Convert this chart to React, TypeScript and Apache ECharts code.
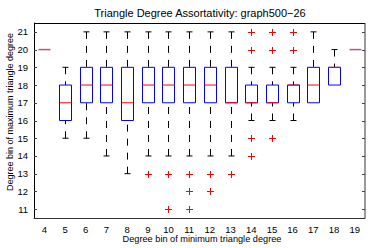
import React, { useEffect, useRef } from "react";
import * as echarts from "echarts";

const categories = [4, 5, 6, 7, 8, 9, 10, 11, 12, 13, 14, 15, 16, 17, 18, 19];
// [lowerWhisker, q1, median, q3, upperWhisker]
const boxStats = [
  [20, 20, 20, 20, 20],
  [15, 16, 17, 18, 19],
  [15, 17, 18, 19, 21],
  [14, 17, 18, 19, 21],
  [13, 16, 17, 19, 21],
  [14, 17, 18, 19, 21],
  [14, 17, 18, 19, 21],
  [14, 17, 18, 19, 21],
  [14, 17, 18, 19, 21],
  [14, 17, 17, 19, 21],
  [16, 17, 17, 18, 19],
  [16, 17, 17, 18, 19],
  [16, 17, 18, 18, 19],
  [17, 17, 18, 19, 21],
  [18, 18, 19, 19, 20],
  [20, 20, 20, 20, 20],
];
// [category, value]
const outliers = [
  [9, 13],
  [10, 13], [10, 11],
  [11, 13], [11, 12], [11, 11],
  [12, 13], [12, 12],
  [13, 13],
  [14, 21], [14, 20], [14, 15], [14, 14],
  [15, 21], [15, 20], [15, 15],
  [16, 21], [16, 20],
];
const yTicks = [11, 12, 13, 14, 15, 16, 17, 18, 19, 20, 21];
const titleText = "Triangle Degree Assortativity: graph500\u221226";
const xName = "Degree bin of minimum triangle degree";
const yName = "Degree bin of maximum triangle degree";

const FONT = "'Liberation Sans', Arial, sans-serif";

export default function App() {
  const ref = useRef<HTMLDivElement>(null);
  useEffect(() => {
    if (!ref.current) return;
    const chart = echarts.init(ref.current, null, { renderer: "svg" });
    const boxData = categories.map((c, i) => [c, ...boxStats[i]]);
    chart.setOption({
      animation: false,
      grid: { left: 34, right: 9, top: 23, bottom: 30, containLabel: false, outerBoundsMode: "none" },
      xAxis: {
        type: "value",
        min: 3.5,
        max: 19.5,
        interval: 0.5,
        axisLine: { show: true, onZero: false, lineStyle: { color: "#333", width: 1 } },
        axisTick: { show: false },
        splitLine: { show: false },
        axisLabel: {
          fontFamily: FONT,
          fontSize: 9.5,
          color: "#000",
          margin: 6,
          hideOverlap: false,
          interval: 0,
          formatter: (v: number) => (categories.includes(v) ? String(v) : ""),
        },
      },
      yAxis: [
        {
          type: "value",
          min: 10.5,
          max: 21.5,
          interval: 0.5,
          axisLine: { show: true, lineStyle: { color: "#000", width: 1 } },
          axisTick: { show: false },
          splitLine: { show: false },
          axisLabel: {
            fontFamily: FONT,
            fontSize: 9.5,
            color: "#000",
            margin: 6,
            hideOverlap: false,
            formatter: (v: number) => (yTicks.includes(v) ? String(v) : ""),
          },
        },
      ],
      graphic: [
        {
          type: "text",
          x: 200,
          y: 13,
          style: {
            text: titleText,
            fontFamily: FONT,
            fontSize: 11,
            fill: "#000",
            align: "center",
            verticalAlign: "middle",
          },
        },
        {
          type: "text",
          x: 202,
          y: 239,
          style: {
            text: xName,
            fontFamily: FONT,
            fontSize: 9.2,
            fill: "#000",
            align: "center",
            verticalAlign: "middle",
          },
        },
        {
          type: "text",
          x: 10,
          y: 112,
          rotation: Math.PI / 2,
          style: {
            text: yName,
            fontFamily: FONT,
            fontSize: 9,
            fill: "#000",
            align: "center",
            verticalAlign: "middle",
          },
        },
        {
          type: "line",
          shape: { x1: 34, y1: 23.5, x2: 365, y2: 23.5 },
          style: { stroke: "#000", lineWidth: 1 },
        },
        {
          type: "line",
          shape: { x1: 365, y1: 23, x2: 365, y2: 218 },
          style: { stroke: "#333", lineWidth: 1 },
        },
      ],
      series: [
        {
          type: "custom",
          data: yTicks.map((t) => [t]),
          renderItem: (params: any, api: any) => {
            const v = api.value(0);
            const pl = api.coord([3.5, v]);
            const pr = api.coord([19.5, v]);
            const y = Math.round(pl[1]) + 0.5;
            return {
              type: "group",
              children: [
                { type: "line", shape: { x1: pl[0], y1: y, x2: pl[0] + 3, y2: y }, style: { stroke: "#444", lineWidth: 1 } },
                { type: "line", shape: { x1: pr[0] - 3, y1: y, x2: pr[0], y2: y }, style: { stroke: "#444", lineWidth: 1 } },
              ],
            };
          },
          silent: true,
          z: 1,
        },
        {
          type: "custom",
          data: boxData,
          encode: { x: 0, y: [1, 2, 3, 4, 5] },
          renderItem: (params: any, api: any) => {
            const x = api.value(0);
            const lo = api.coord([x, api.value(1)]);
            const q1 = api.coord([x, api.value(2)]);
            const md = api.coord([x, api.value(3)]);
            const q3 = api.coord([x, api.value(4)]);
            const hi = api.coord([x, api.value(5)]);
            const cx = Math.round(lo[0]) + 0.5;
            const hw = 6;
            const cw = 3;
            const children: any[] = [];
            if (hi[1] < q3[1]) {
              children.push({
                type: "line",
                shape: { x1: cx, y1: hi[1], x2: cx, y2: q3[1] },
                style: { stroke: "#000", lineWidth: 1, lineDash: [7, 7] },
              });
              children.push({
                type: "line",
                shape: { x1: cx - cw, y1: hi[1], x2: cx + cw, y2: hi[1] },
                style: { stroke: "#000", lineWidth: 1 },
              });
            }
            if (lo[1] > q1[1]) {
              children.push({
                type: "line",
                shape: { x1: cx, y1: lo[1], x2: cx, y2: q1[1] },
                style: { stroke: "#000", lineWidth: 1, lineDash: [7, 7] },
              });
              children.push({
                type: "line",
                shape: { x1: cx - cw, y1: lo[1], x2: cx + cw, y2: lo[1] },
                style: { stroke: "#000", lineWidth: 1 },
              });
            }
            const single = q3[1] === q1[1];
            if (!single) {
              children.push({
                type: "rect",
                shape: { x: cx - hw, y: q3[1], width: hw * 2, height: q1[1] - q3[1] },
                style: { fill: "none", stroke: "#0000ff", lineWidth: 1 },
              });
              children.push({
                type: "line",
                shape: { x1: cx - hw, y1: md[1], x2: cx + hw, y2: md[1] },
                style: { stroke: "#ff0000", lineWidth: 1 },
              });
            } else {
              children.push({
                type: "line",
                shape: { x1: cx - hw, y1: md[1], x2: cx + hw, y2: md[1] },
                style: { stroke: "#c0508a", lineWidth: 1.5 },
              });
            }
            return { type: "group", children };
          },
          z: 3,
        },
        {
          type: "custom",
          data: outliers,
          encode: { x: 0, y: 1 },
          renderItem: (params: any, api: any) => {
            const p = api.coord([api.value(0), api.value(1)]);
            const s = 3.5;
            const cx = Math.round(p[0]) + 0.5;
            const cy = Math.round(p[1]) + 0.5;
            return {
              type: "group",
              children: [
                { type: "line", shape: { x1: cx - s, y1: cy, x2: cx + s, y2: cy }, style: { stroke: "#ff0000", lineWidth: 1 } },
                { type: "line", shape: { x1: cx, y1: cy - s, x2: cx, y2: cy + s }, style: { stroke: "#ff0000", lineWidth: 1 } },
              ],
            };
          },
          z: 3,
        },
      ],
    });
    return () => chart.dispose();
  }, []);
  return <div ref={ref} style={{ width: 374, height: 248, position: "absolute", left: 0, top: 0, background: "#fff" }} />;
}
